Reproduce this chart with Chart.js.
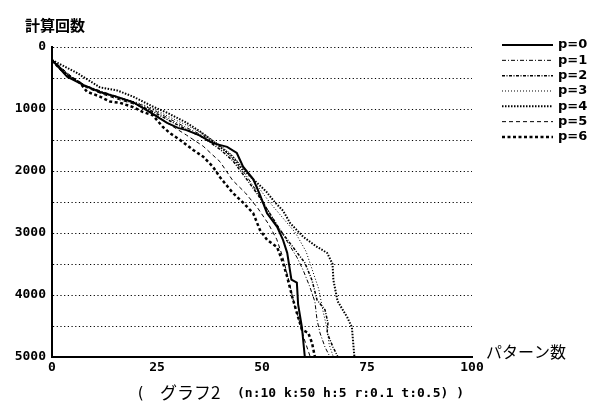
<!DOCTYPE html>
<html lang="ja">
<head>
    <meta charset="UTF-8">
    <title>グラフ2</title>
    <script src="https://cdn.jsdelivr.net/npm/chart.js"></script>
    <style>
        body {
            margin: 0;
            padding: 0;
            background-color: #fff;
        }
        .chart-box {
            position: relative;
            width: 593px;
            height: 404px;
        }
    </style>
</head>
<body>
    <div class="chart-box">
        <canvas id="lineChart"></canvas>
    </div>

    <script>
        // series labels
        const seriesNames = ['p=0', 'p=1', 'p=2', 'p=3', 'p=4', 'p=5', 'p=6'];

        // x tick values and y tick labels
        const xTicks = [0, 25, 50, 75, 100];
        const yLabels = [0, 1000, 2000, 3000, 4000, 5000];

        // [パターン数, 計算回数]
        const p0 = [[0,210],[3.6,480],[7.4,610],[11.4,725],[15.5,805],[19.3,890],[23.3,1050],[27.4,1225],[30,1305],[32,1340],[35,1420],[38.3,1550],[41.7,1610],[44,1710],[45.5,1930],[47.9,2130],[49.5,2380],[51.2,2680],[53.6,2900],[55,3110],[56,3320],[57,3750],[58.3,3800],[58.6,4150],[59.5,4520],[60.2,5000]];
        const p1 = [[0,200],[4,460],[8,620],[12,720],[16,810],[20,900],[24,1010],[28,1160],[32,1300],[36,1430],[40,1600],[43,1800],[46,2050],[49,2350],[52,2700],[54.3,2950],[56.2,3160],[58.3,3390],[59.8,3600],[61.4,3870],[62.6,4110],[63.1,4400],[63.8,4610],[65,4840],[66.2,5000]];
        const p2 = [[0,210],[4,470],[8,630],[12,740],[16,830],[20,920],[24,1040],[28,1190],[32,1330],[36,1460],[40,1650],[43,1830],[46,2100],[49,2380],[52,2700],[54.3,2950],[57.4,3230],[60.2,3480],[61.9,3760],[63.1,4080],[65,4240],[65.7,4450],[65.5,4610],[66.9,4840],[68.1,5000]];
        const p3 = [[0,200],[4,450],[8,640],[12,730],[16,820],[20,890],[24,990],[28,1130],[32,1260],[36,1400],[40,1580],[43,1750],[46,1990],[49,2250],[52,2520],[55,2760],[58,3000],[60.5,3300],[62,3600],[63.5,3900],[64.5,4250],[65.5,4550],[66,4800],[67,5000]];
        const p4 = [[0,210],[6,420],[11.4,650],[15.5,700],[19.3,800],[24,960],[27.4,1060],[32,1220],[35.2,1360],[37,1450],[40,1610],[43,1770],[45,1940],[48,2140],[51,2330],[53,2500],[55,2640],[56.7,2840],[59.8,3060],[63,3220],[65.5,3320],[66.8,3500],[67,3760],[68,4100],[70.3,4360],[71.4,4520],[72,5000]];
        const p5 = [[0,200],[4,440],[8,650],[12,760],[16,850],[20,930],[24,1060],[28,1250],[32,1420],[36,1600],[40,1850],[43,2150],[46,2350],[49,2600],[51.5,2850],[53.5,3100],[55,3400],[56.5,3800],[57.5,4100],[58.8,4400],[60,4700],[61.5,5000]];
        const p6 = [[0,220],[3,420],[6.7,580],[8.3,720],[11.4,800],[13.8,880],[16.2,900],[19.3,970],[21.7,1050],[24,1100],[26.4,1290],[28.1,1390],[30.5,1500],[33.6,1660],[36,1770],[38.3,1930],[40,2100],[43,2350],[45.5,2510],[47.9,2680],[49.5,2950],[51.2,3110],[53.6,3230],[55,3480],[56,3710],[57.2,4030],[58.3,4290],[59.5,4560],[61,4610],[61.9,4770],[62.6,5000]];

        const seriesData = [p0, p1, p2, p3, p4, p5, p6];
        const lineWidths = [2, 1, 1.5, 1, 2, 1, 2.5];
        const lineDashes = [[], [4, 2, 1, 2], [3, 1.5, 1, 1.5], [1, 2], [1.5, 1.5], [4, 3], [3, 2.5]];

        const monoFont = '"DejaVu Sans Mono", monospace';
        const jpFont = '"Noto Sans CJK JP", sans-serif';

        // titles, axis label, caption and legend drawn after the chart
        const extraText = {
            id: 'extraText',
            afterDraw(chart) {
                const ctx = chart.ctx;
                ctx.save();
                ctx.fillStyle = '#000';
                ctx.textBaseline = 'middle';

                ctx.font = 'bold 15px ' + jpFont;
                ctx.fillText('計算回数', 25, 25);

                ctx.font = '16px ' + jpFont;
                ctx.fillText('パターン数', 486, 352);

                ctx.font = '15px ' + monoFont;
                ctx.fillText('(', 136, 394);
                ctx.font = '17px ' + jpFont;
                ctx.fillText('グラフ2', 160, 393);
                ctx.font = 'bold 13px ' + monoFont;
                ctx.fillText('(n:10 k:50 h:5 r:0.1 t:0.5) )', 237, 394);

                // legend
                chart.data.datasets.forEach((ds, i) => {
                    const y = 45 + i * 15.33;
                    ctx.beginPath();
                    ctx.lineWidth = ds.borderWidth;
                    ctx.setLineDash(ds.borderDash);
                    ctx.strokeStyle = '#000';
                    ctx.moveTo(502, y);
                    ctx.lineTo(553, y);
                    ctx.stroke();
                    ctx.setLineDash([]);
                    ctx.font = 'bold 13px "DejaVu Sans", sans-serif';
                    ctx.fillText(ds.label, 558, y);
                });
                ctx.restore();
            }
        };

        const ctx = document.getElementById('lineChart').getContext('2d');

        const lineChart = new Chart(ctx, {
            type: 'scatter',
            data: {
                datasets: seriesNames.map((name, i) => ({
                    label: name,
                    data: seriesData[i].map(p => ({ x: p[0], y: p[1] })),
                    showLine: true,
                    borderColor: '#000',
                    backgroundColor: '#000',
                    borderWidth: lineWidths[i],
                    borderDash: lineDashes[i],
                    pointRadius: 0,
                    tension: 0
                }))
            },
            options: {
                responsive: true,
                maintainAspectRatio: false,
                animation: false,
                layout: {
                    padding: { top: 47, right: 121, left: 0, bottom: 0 }
                },
                plugins: {
                    legend: { display: false },
                    tooltip: { enabled: false }
                },
                scales: {
                    x: {
                        type: 'linear',
                        min: 0,
                        max: 100,
                        afterFit: s => { s.height = 47; },
                        afterBuildTicks: s => { s.ticks = xTicks.map(v => ({ value: v })); },
                        grid: { display: false, drawTicks: false },
                        border: { display: true, color: '#000', width: 2 },
                        ticks: {
                            color: '#000',
                            padding: 3,
                            maxRotation: 0,
                            font: { family: monoFont, size: 13, weight: 'bold' }
                        }
                    },
                    y: {
                        type: 'linear',
                        reverse: true,
                        min: 0,
                        max: 5000,
                        afterFit: s => { s.width = 52; },
                        grid: { color: '#000', lineWidth: 1, drawTicks: false },
                        border: { display: true, color: '#000', width: 2, dash: [1.2, 2.5] },
                        ticks: {
                            stepSize: 500,
                            color: '#000',
                            padding: 6,
                            font: { family: monoFont, size: 13, weight: 'bold' },
                            callback: v => yLabels.includes(v) ? v : ''
                        }
                    }
                }
            },
            plugins: [extraText]
        });
    </script>
</body>
</html>
